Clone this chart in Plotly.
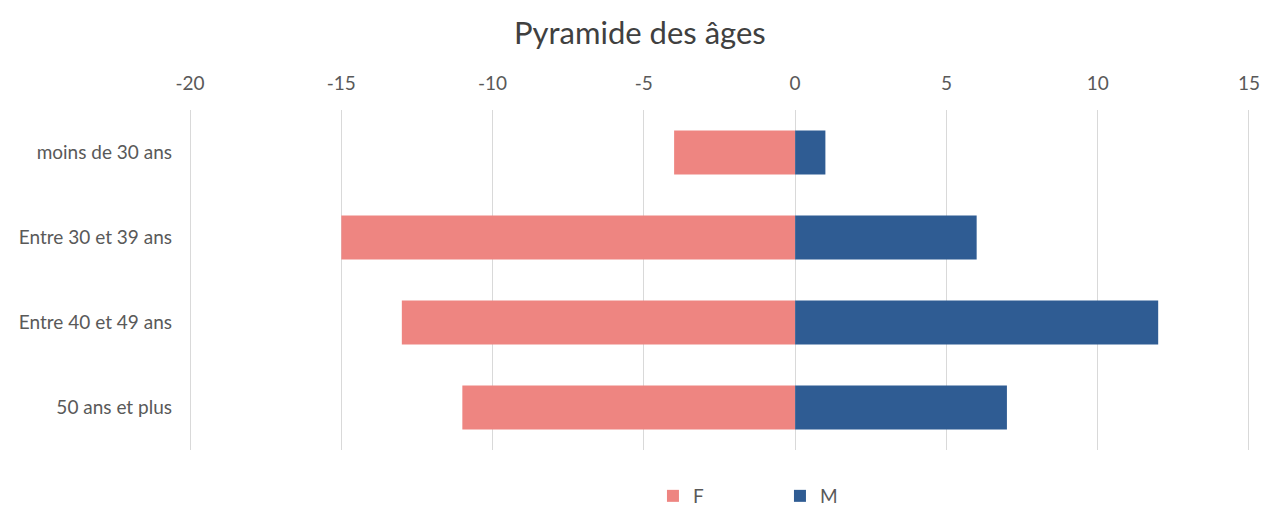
import plotly.graph_objects as go

# Age groups and headcounts (F plotted to the left as negative values)
categories = ["moins de 30 ans", "Entre 30 et 39 ans", "Entre 40 et 49 ans", "50 ans et plus"]
f_values = [-4, -15, -13, -11]
m_values = [1, 6, 12, 7]
x_ticks = [-20, -15, -10, -5, 0, 5, 10, 15]

FONT = "Lato"
TEXT = "#595959"
GRID = "#d9d9d9"

fig = go.Figure()
fig.add_trace(go.Bar(y=categories, x=f_values, name="F", orientation="h",
                     marker=dict(color="#EE8581", line=dict(width=0)), width=0.52))
fig.add_trace(go.Bar(y=categories, x=m_values, name="M", orientation="h",
                     marker=dict(color="#2F5C93", line=dict(width=0)), width=0.52))

fig.update_layout(
    width=1262, height=507,
    margin=dict(l=184, r=7, t=110, b=57, autoexpand=False),
    paper_bgcolor="white", plot_bgcolor="white",
    barmode="relative",
    font=dict(family=FONT, color=TEXT, size=19),
    title=dict(text="Pyramide des âges", x=0.507, xref="container", xanchor="center",
               y=0.935, yanchor="middle",
               font=dict(family=FONT, size=31, color="#404040")),
    xaxis=dict(side="top", range=[-20.2, 15.2], tickvals=x_ticks,
               ticktext=[str(v) for v in x_ticks],
               showgrid=True, gridcolor=GRID, gridwidth=1,
               zeroline=True, zerolinecolor=GRID, zerolinewidth=1,
               showline=False, ticks="", ticklabelstandoff=15,
               tickfont=dict(size=19, color=TEXT)),
    yaxis=dict(autorange="reversed", categoryorder="array", categoryarray=categories,
               showgrid=False, zeroline=False, showline=False, ticks="",
               ticklabelstandoff=11,
               tickfont=dict(size=19, color=TEXT)),
    legend=dict(orientation="h", xref="container", x=0.5174, xanchor="left",
                yref="container", y=(507 - 496) / 507, yanchor="middle",
                entrywidth=82, font=dict(size=19, color=TEXT), traceorder="normal"),
)

fig.write_html("out.html")
